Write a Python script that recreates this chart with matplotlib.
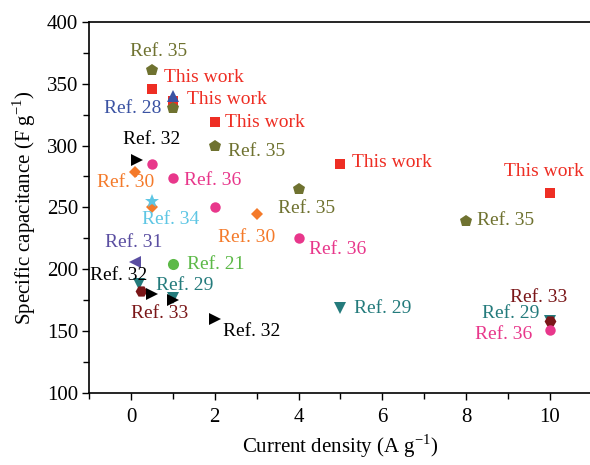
import matplotlib
matplotlib.use("Agg")
import matplotlib.pyplot as plt
from matplotlib.ticker import MultipleLocator

plt.rcParams["font.family"] = ["Liberation Serif", "DejaVu Serif"]
plt.rcParams["mathtext.fontset"] = "custom"
plt.rcParams["mathtext.rm"] = "Liberation Serif"

# capacitance vs current density, one group per reference
this_work_x = [0.5, 1, 2, 5, 10]
this_work_y = [346, 336, 319, 285, 262]

ref35_x = [0.5, 1, 2, 4, 8]
ref35_y = [361, 330, 300, 265, 239]

ref28_x = [1]
ref28_y = [340]

ref32_x = [0.15, 0.5, 1, 2]
ref32_y = [288, 180, 175, 160]

ref36_x = [0.5, 1, 2, 4, 10]
ref36_y = [285, 274, 250, 225, 151]

ref30_x = [0.1, 0.5, 3]
ref30_y = [279, 250, 245]

ref34_x = [0.5]
ref34_y = [255]

ref31_x = [0.1]
ref31_y = [206]

ref21_x = [1]
ref21_y = [204]

ref29_x = [0.2, 1, 5, 10]
ref29_y = [188, 177, 169, 158]

ref33_x = [0.25, 10]
ref33_y = [182, 158]

RED = "#ee2e24"
OLIVE = "#6f7230"
BLUE = "#3b53a3"
PINK = "#e8378b"
ORANGE = "#f47a2a"
CYAN = "#5ec6e4"
PURPLE = "#5a4ea1"
GREEN = "#5cb947"
TEAL = "#247b7c"
DARKRED = "#7a1618"

# (x, y, color, marker, size) drawn in this order
series = [
    (ref29_x, ref29_y, TEAL, "v", 8),
    (ref33_x, ref33_y, DARKRED, "H", 8.5),
    (ref30_x, ref30_y, ORANGE, "D", 6.5),
    (ref34_x, ref34_y, CYAN, "*", 10),
    (ref31_x, ref31_y, PURPLE, "<", 8),
    (ref21_x, ref21_y, GREEN, "o", 8),
    (ref32_x, ref32_y, "black", ">", 8),
    (ref36_x, ref36_y, PINK, "o", 7.5),
    (this_work_x, this_work_y, RED, "s", 7),
    (ref28_x, ref28_y, BLUE, "^", 8),
    (ref35_x, ref35_y, OLIVE, "p", 9),
]

# label text, position (data units), colour, alignment
labels = [
    ("Ref. 35", 0.66, 376, OLIVE, "center"),
    ("This work", 0.79, 355, RED, "left"),
    ("This work", 1.33, 337, RED, "left"),
    ("Ref. 28", 0.73, 330, BLUE, "right"),
    ("This work", 2.24, 319, RED, "left"),
    ("Ref. 32", 0.49, 305, "black", "center"),
    ("Ref. 35", 2.31, 295, OLIVE, "left"),
    ("Ref. 30", -0.13, 270, ORANGE, "center"),
    ("Ref. 36", 1.26, 272, PINK, "left"),
    ("Ref. 34", 0.95, 240, CYAN, "center"),
    ("Ref. 30", 2.77, 226, ORANGE, "center"),
    ("Ref. 35", 3.52, 249, OLIVE, "left"),
    ("Ref. 36", 4.26, 216, PINK, "left"),
    ("This work", 5.27, 286, RED, "left"),
    ("This work", 9.85, 279, RED, "center"),
    ("Ref. 35", 8.25, 239, OLIVE, "left"),
    ("Ref. 31", 0.07, 222, PURPLE, "center"),
    ("Ref. 21", 1.33, 204, GREEN, "left"),
    ("Ref. 32", -0.29, 195, "black", "center"),
    ("Ref. 29", 0.60, 187, TEAL, "left"),
    ("Ref. 33", 0.69, 164, DARKRED, "center"),
    ("Ref. 32", 2.19, 150, "black", "left"),
    ("Ref. 29", 5.32, 168, TEAL, "left"),
    ("Ref. 33", 9.74, 177, DARKRED, "center"),
    ("Ref. 29", 9.76, 164, TEAL, "right"),
    ("Ref. 36", 9.59, 147, PINK, "right"),
]

fig = plt.figure(figsize=(5.9, 4.65), dpi=100)
ax = fig.add_axes([0.151, 0.155, 0.852, 0.798])

for xs, ys, color, marker, size in series:
    ax.plot(xs, ys, linestyle="none", marker=marker, color=color,
            markersize=size, markeredgewidth=0, clip_on=False)

for text, tx, ty, color, ha in labels:
    ax.text(tx, ty, text, color=color, ha=ha, va="center", fontsize=14)

ax.set_xlim(-1, 11)
ax.set_ylim(100, 400)
ax.xaxis.set_major_locator(MultipleLocator(2))
ax.xaxis.set_minor_locator(MultipleLocator(1))
ax.yaxis.set_major_locator(MultipleLocator(50))
ax.yaxis.set_minor_locator(MultipleLocator(25))
ax.tick_params(which="both", direction="out", labelsize=15, width=1)
ax.tick_params(which="major", length=5)
ax.tick_params(which="minor", length=4)
ax.tick_params(axis="x", pad=6)
ax.tick_params(axis="y", pad=3)
ax.tick_params(top=False, right=False)
for side in ax.spines.values():
    side.set_linewidth(1.2)

ax.set_xlabel(r"Current density (A g$^{\mathregular{-1}}$)", fontsize=15, labelpad=4)
ax.set_ylabel(r"Specific capacitance (F g$^{\mathregular{-1}}$)", fontsize=15, labelpad=6)

fig.savefig("out.png", dpi=100)
